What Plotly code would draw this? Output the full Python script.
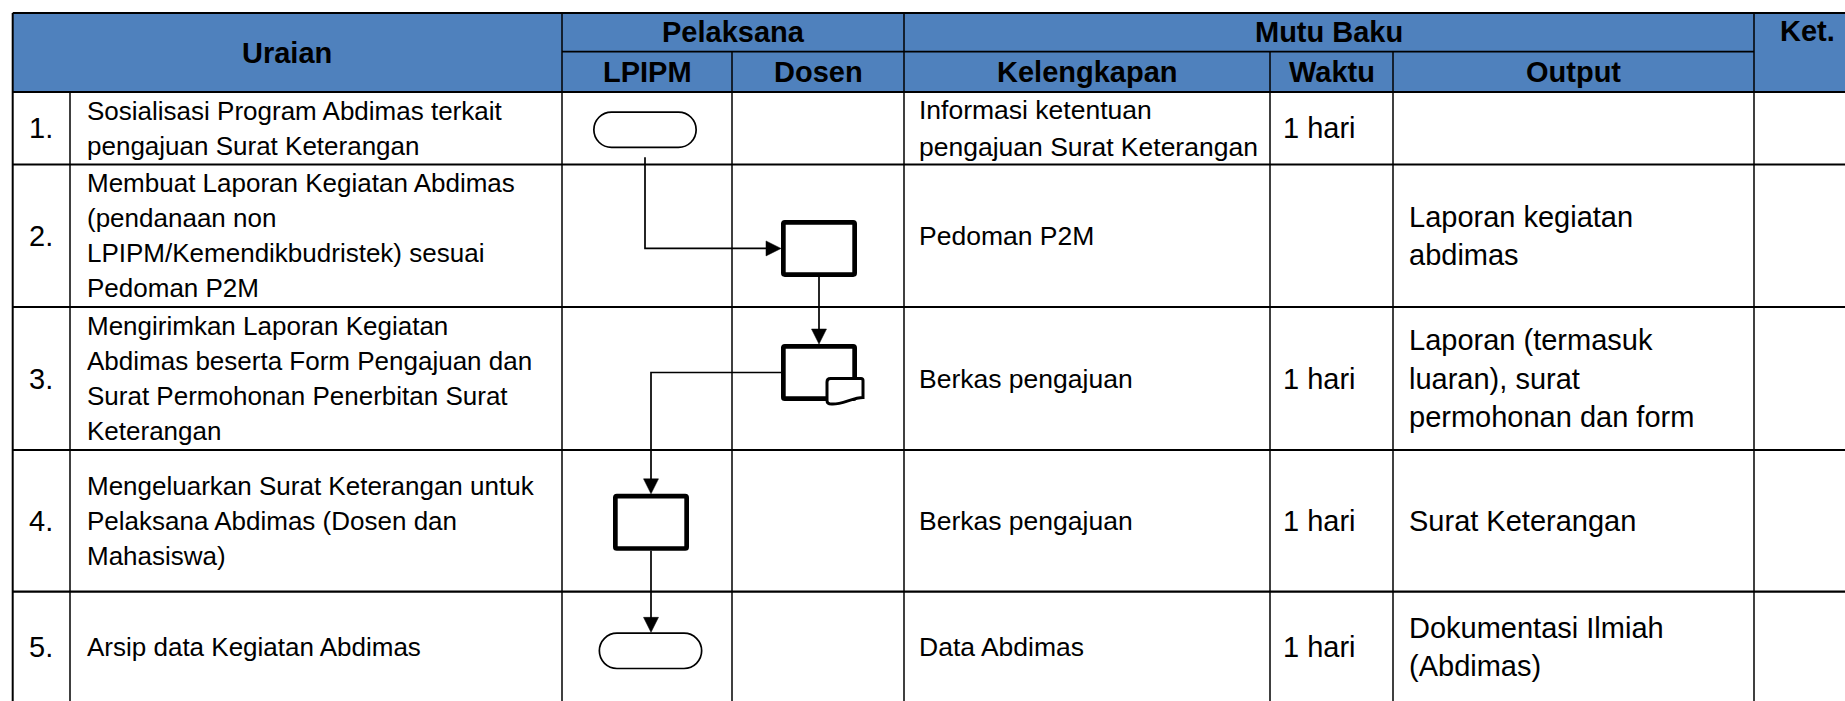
import plotly.graph_objects as go

# ---------------- data ----------------
header_top = ["Uraian", "Pelaksana", "Mutu Baku", "Ket."]
header_sub = ["LPIPM", "Dosen", "Kelengkapan", "Waktu", "Output"]

numbers = ["1.", "2.", "3.", "4.", "5."]
uraian = [
    ["Sosialisasi Program Abdimas terkait", "pengajuan Surat Keterangan"],
    ["Membuat Laporan Kegiatan Abdimas", "(pendanaan non",
     "LPIPM/Kemendikbudristek) sesuai", "Pedoman P2M"],
    ["Mengirimkan Laporan Kegiatan", "Abdimas beserta Form Pengajuan dan",
     "Surat Permohonan Penerbitan Surat", "Keterangan"],
    ["Mengeluarkan Surat Keterangan untuk", "Pelaksana Abdimas (Dosen dan",
     "Mahasiswa)"],
    ["Arsip data Kegiatan Abdimas"],
]
kelengkapan = [
    ["Informasi ketentuan", "pengajuan Surat Keterangan"],
    ["Pedoman P2M"],
    ["Berkas pengajuan"],
    ["Berkas pengajuan"],
    ["Data Abdimas"],
]
waktu = ["1 hari", "", "1 hari", "1 hari", "1 hari"]
output = [
    [],
    ["Laporan kegiatan", "abdimas"],
    ["Laporan (termasuk", "luaran), surat", "permohonan dan form"],
    ["Surat Keterangan"],
    ["Dokumentasi Ilmiah", "(Abdimas)"],
]
ket = ["", "", "", "", ""]

# flow nodes: (kind, row, lane)
flow_nodes = [
    ("terminator", 0, "LPIPM"),
    ("process", 1, "Dosen"),
    ("document", 2, "Dosen"),
    ("process", 3, "LPIPM"),
    ("terminator", 4, "LPIPM"),
]
flow_links = [(0, 1, "down-right"), (1, 2, "down"), (2, 3, "left-down"), (3, 4, "down")]

# ---------------- layout geometry ----------------
W, H = 1845, 701
FONT = "Liberation Sans, Arial, sans-serif"
BLUE = "#4F81BD"

# column edges: num | uraian | LPIPM | Dosen | Kelengkapan | Waktu | Output | Ket
cx = [12.7, 70, 562, 732, 904, 1270, 1393, 1754, 1860]
y_top, y_split, y_head = 13, 51.7, 92
ry = [92, 164.5, 307, 450, 591.7, 702]
lane_x = {"LPIPM": (cx[2] + cx[3]) / 2, "Dosen": (cx[3] + cx[4]) / 2}
node_adj = [(-2, 1.5), (1, 12.7), (1, -6), (4, 1.5), (3.5, 4)]
node_size = {"terminator": (104, 37), "process": (76, 57), "document": (76, 57)}

shapes = []
annotations = []


def line(x0, y0, x1, y1, w=1.5, color="black"):
    shapes.append(dict(type="line", x0=x0, y0=y0, x1=x1, y1=y1,
                       xref="x", yref="y", line=dict(color=color, width=w)))


def path(d, w=1.7, fill="white", color="black"):
    shapes.append(dict(type="path", path=d, xref="x", yref="y",
                       fillcolor=fill, line=dict(color=color, width=w)))


def text(x, y, s, size, bold=False, anchor="left"):
    annotations.append(dict(x=x, y=y, xref="x", yref="y", text=("<b>%s</b>" % s) if bold else s,
                            showarrow=False, xanchor=anchor, yanchor="middle",
                            font=dict(family=FONT, size=size, color="black")))


# header background
shapes.append(dict(type="rect", x0=cx[0], x1=W + 2, y0=y_top, y1=y_head, xref="x", yref="y",
                   fillcolor=BLUE, line=dict(width=0), layer="below"))

# horizontal lines
line(cx[0], y_top, W + 2, y_top, 2)
line(cx[2], y_split, cx[7], y_split, 1.7)
for y in ry[:-1]:
    line(cx[0], y, W + 2, y, 2.2)
# vertical lines
line(cx[0], y_top, cx[0], H + 2, 2)
line(cx[1], y_head, cx[1], H + 2, 1.5)
for i in (2, 4, 7):
    line(cx[i], y_top, cx[i], H + 2, 1.5)
for i in (3, 5, 6):
    line(cx[i], y_split, cx[i], H + 2, 1.5)

# header texts
HS = 29
text((cx[0] + cx[2]) / 2, (y_top + y_head) / 2, header_top[0], HS, True, "center")
text((cx[2] + cx[4]) / 2, (y_top + y_split) / 2, header_top[1], HS, True, "center")
text((cx[4] + cx[7]) / 2, (y_top + y_split) / 2, header_top[2], HS, True, "center")
text((cx[7] + cx[8]) / 2, (y_top + y_split) / 2 - 1, header_top[3], HS, True, "center")
for j, lab in enumerate(header_sub):
    a, b = [(2, 3), (3, 4), (4, 5), (5, 6), (6, 7)][j]
    text((cx[a] + cx[b]) / 2, (y_split + y_head) / 2, lab, HS, True, "center")


def block(x, lines, yc, size, gap, anchor="left"):
    n = len(lines)
    for k, s in enumerate(lines):
        text(x, yc + (k - (n - 1) / 2) * gap, s, size, anchor=anchor)


for r in range(5):
    yc = (ry[r] + ry[r + 1]) / 2
    block((cx[0] + cx[1]) / 2, [numbers[r]], yc, 29, 0, "center")
    block(cx[1] + 15, uraian[r], yc, 26, 35)
    block(cx[4] + 13, kelengkapan[r], yc, 26.5, 37)
    if waktu[r]:
        block(cx[5] + 11, [waktu[r]], yc, 29, 0)
    block(cx[6] + 14, output[r], yc, 29, 38.5)
    if ket[r]:
        block(cx[7] + 10, [ket[r]], yc, 26.5, 35)

# ---------------- flowchart ----------------
K = 0.5523
boxes = []
for i, (kind, r, lane) in enumerate(flow_nodes):
    w, h = node_size[kind]
    x = lane_x[lane] + node_adj[i][0]
    y = (ry[r] + ry[r + 1]) / 2 + node_adj[i][1]
    x0, x1, y0, y1 = x - w / 2, x + w / 2, y - h / 2, y + h / 2
    boxes.append((x0, x1, y0, y1, x, y))
    if kind == "terminator":
        sw = 1.7
        a0, a1, b0, b1 = x0 + sw / 2, x1 - sw / 2, y0 + sw / 2, y1 - sw / 2
        rr = (b1 - b0) / 2
        ym = (b0 + b1) / 2
        d = (f"M{a0+rr},{b0} L{a1-rr},{b0} "
             f"C{a1-rr+K*rr},{b0} {a1},{ym-K*rr} {a1},{ym} "
             f"C{a1},{ym+K*rr} {a1-rr+K*rr},{b1} {a1-rr},{b1} "
             f"L{a0+rr},{b1} "
             f"C{a0+rr-K*rr},{b1} {a0},{ym+K*rr} {a0},{ym} "
             f"C{a0},{ym-K*rr} {a0+rr-K*rr},{b0} {a0+rr},{b0} Z")
        path(d, sw)
    else:
        sw = 4.7
        a0, a1, b0, b1 = x0 + sw / 2, x1 - sw / 2, y0 + sw / 2, y1 - sw / 2
        c = 1.5
        d = (f"M{a0+c},{b0} L{a1-c},{b0} Q{a1},{b0} {a1},{b0+c} L{a1},{b1-c} "
             f"Q{a1},{b1} {a1-c},{b1} L{a0+c},{b1} Q{a0},{b1} {a0},{b1-c} "
             f"L{a0},{b0+c} Q{a0},{b0} {a0+c},{b0} Z")
        path(d, sw)
        if kind == "document":
            sw2 = 3
            s0, s1 = x1 - 30, x1 + 6
            t0, tl, tr = y0 + 34.5, y1 + 3, y1 - 3.5
            rr = 3.5
            d2 = (f"M{s0},{t0+rr} Q{s0},{t0} {s0+rr},{t0} L{s1-2},{t0} Q{s1},{t0} {s1},{t0+2} "
                  f"L{s1},{tr} C{s1-10},{tr} {s0+14},{tl+1} {s0+rr+1},{tl} "
                  f"Q{s0},{tl} {s0},{tl-rr} Z")
            path(d2, sw2)

LW = 1.7
AL, AW = 15, 7.5


def arrow_head(tx, ty, direction):
    if direction == "down":
        d = f"M{tx},{ty} L{tx-AW},{ty-AL} L{tx+AW},{ty-AL} Z"
    else:  # right
        d = f"M{tx},{ty} L{tx-AL},{ty-AW} L{tx-AL},{ty+AW} Z"
    path(d, 0.5, fill="black")


for a, b, kind in flow_links:
    A, B = boxes[a], boxes[b]
    if kind == "down-right":
        xs, ys = A[4], A[3] + 9
        ye = B[5]
        xe = B[0]
        path(f"M{xs},{ys} L{xs},{ye} L{xe - AL + 1},{ye}", LW, fill="rgba(0,0,0,0)")
        arrow_head(xe, ye, "right")
    elif kind == "down":
        xs = A[4]
        path(f"M{xs},{A[3]} L{xs},{B[2] - AL + 1}", LW, fill="rgba(0,0,0,0)")
        arrow_head(xs, B[2], "down")
    elif kind == "left-down":
        ys = A[5]
        xe = B[4]
        path(f"M{A[0]},{ys} L{xe},{ys} L{xe},{B[2] - AL + 1}", LW, fill="rgba(0,0,0,0)")
        arrow_head(xe, B[2], "down")

fig = go.Figure()
fig.update_layout(
    width=W, height=H, margin=dict(l=0, r=0, t=0, b=0),
    paper_bgcolor="white", plot_bgcolor="white",
    xaxis=dict(range=[0, W], visible=False, fixedrange=True),
    yaxis=dict(range=[H, 0], visible=False, fixedrange=True),
    shapes=shapes, annotations=annotations, showlegend=False,
)
fig.write_html("out.html", config={"displayModeBar": False},
               post_script="document.body.style.margin='0';document.body.style.overflow='hidden';")
